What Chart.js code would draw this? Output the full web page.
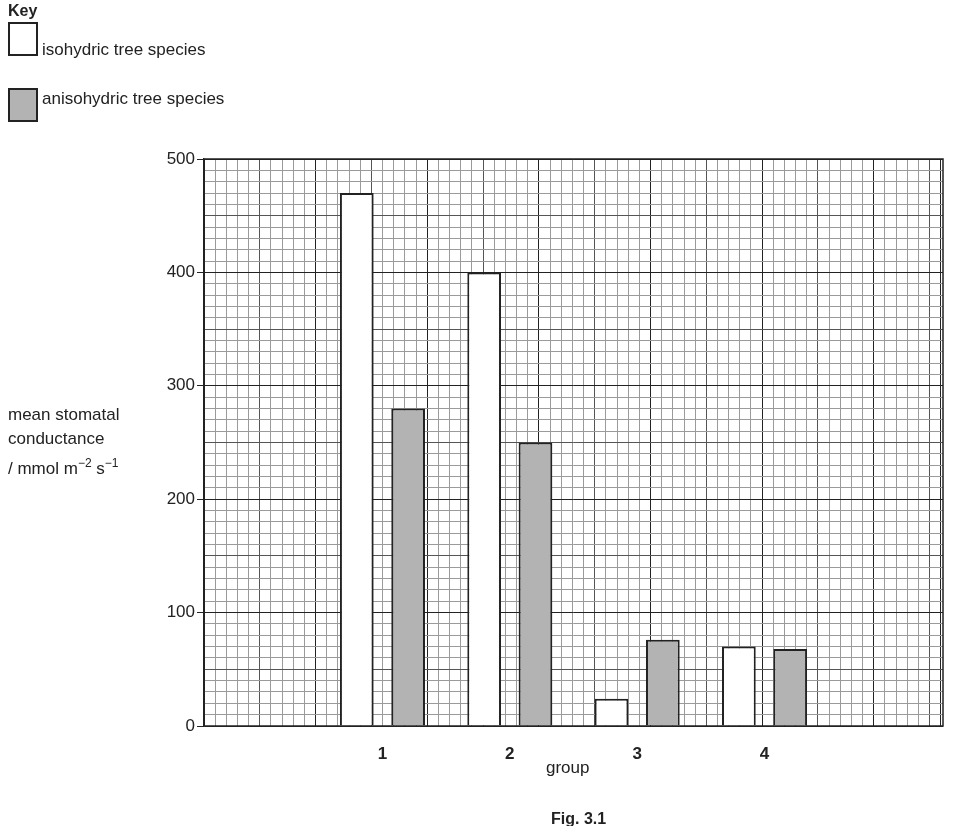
<!DOCTYPE html>
<html lang="en">
<head>
  <meta charset="UTF-8" />
  <title>Mean stomatal conductance</title>
  <script src="https://cdn.jsdelivr.net/npm/chart.js"></script>
  <style>
    body { margin: 0; background: white; font-family: "Liberation Sans", Arial, sans-serif; color: #222; }
    #wrap { position: relative; width: 953px; height: 826px; overflow: hidden; }
    canvas { position: absolute; left: 0; top: 0; }
    .txt { position: absolute; font-size: 17px; white-space: nowrap; }
    .box { position: absolute; width: 30px; height: 34px; border: 2px solid #222; box-sizing: border-box; }
    sup { font-size: 12px; }
  </style>
</head>
<body>
  <div id="wrap">
    <canvas id="chart" width="953" height="826"></canvas>
    <div class="txt" style="left:8px;top:2px;font-weight:bold;font-size:16px">Key</div>
    <div class="box" style="left:8px;top:22px;background:#fff"></div>
    <div class="txt" style="left:42px;top:40px">isohydric tree species</div>
    <div class="box" style="left:8px;top:88px;background:#b3b3b3"></div>
    <div class="txt" style="left:42px;top:89px">anisohydric tree species</div>
    <div class="txt" style="left:8px;top:403px;line-height:24px">mean stomatal<br>conductance<br>/ mmol m<sup>−2</sup> s<sup>−1</sup></div>
    <div class="txt" style="left:546px;top:758px">group</div>
    <div class="txt" style="left:551px;top:810px;font-weight:bold;font-size:16px">Fig. 3.1</div>
  </div>

  <script>
    const groups = [1, 2, 3, 4];
    const isohydric = [470, 400, 24, 70];
    const anisohydric = [280, 250, 76, 68];

    const xMin = 0.324, xMax = 4.676;
    const gridMax = 65.2;

    function lineColour(c, major, mid) {
      if (!c || !c.tick) return "#222";
      const r = Math.round(c.tick.value * 1000) / 1000;
      if (r % major === 0) return "#222";
      if (r % mid === 0) return "#555";
      return "#9a9a9a";
    }

    const frame = {
      id: "frame",
      afterDraw(chart) {
        const a = chart.chartArea, c = chart.ctx;
        c.save();
        c.strokeStyle = "#222";
        c.lineWidth = 1.5;
        c.strokeRect(a.left, a.top, a.right - a.left, a.bottom - a.top);
        c.restore();
      }
    };

    new Chart(document.getElementById("chart"), {
      type: "bar",
      data: {
        datasets: [
          { label: "isohydric tree species", data: groups.map((g, i) => ({ x: g, y: isohydric[i] })),
            backgroundColor: "#fff", borderColor: "#222", borderWidth: 2, xAxisID: "x" },
          { label: "anisohydric tree species", data: groups.map((g, i) => ({ x: g, y: anisohydric[i] })),
            backgroundColor: "#b3b3b3", borderColor: "#222", borderWidth: 2, xAxisID: "x" }
        ]
      },
      options: {
        responsive: false,
        animation: false,
        categoryPercentage: 0.806,
        barPercentage: 0.657,
        layout: { padding: { left: 0, top: 159, right: 10, bottom: 0 } },
        plugins: { legend: { display: false }, tooltip: { enabled: false } },
        scales: {
          x: {
            type: "linear", position: "bottom", min: xMin, max: xMax,
            afterBuildTicks: s => { s.ticks = groups.map(v => ({ value: v })); },
            afterFit: s => { s.height = 100; },
            grid: { display: false },
            border: { display: false },
            ticks: { color: "#222", font: { family: "Liberation Sans", size: 17, weight: "bold" }, padding: 10 }
          },
          xg: {
            type: "linear", position: "bottom", min: 0, max: gridMax,
            afterBuildTicks: s => {
              const t = [];
              for (let i = 0; i <= 65; i++) t.push({ value: i });
              s.ticks = t;
            },
            afterFit: s => { s.height = 0; },
            ticks: { display: false },
            border: { display: false },
            grid: { drawTicks: false, lineWidth: 1, color: c => lineColour(c, 10, 5) }
          },
          y: {
            min: 0, max: 500,
            afterBuildTicks: s => {
              const t = [];
              for (let v = 0; v <= 500; v += 10) t.push({ value: v });
              s.ticks = t;
            },
            afterFit: s => { s.width = 204; },
            border: { color: "#222", width: 1.5 },
            grid: {
              lineWidth: 1, tickLength: 7,
              color: c => lineColour(c, 100, 50),
              tickColor: c => (c && c.tick && c.tick.value % 100 === 0 ? "#222" : "rgba(0,0,0,0)")
            },
            ticks: {
              autoSkip: false, padding: 2,
              color: "#222", font: { family: "Liberation Sans", size: 17 },
              callback: v => (v % 100 === 0 ? v : "")
            }
          }
        }
      },
      plugins: [frame]
    });
  </script>
</body>
</html>
